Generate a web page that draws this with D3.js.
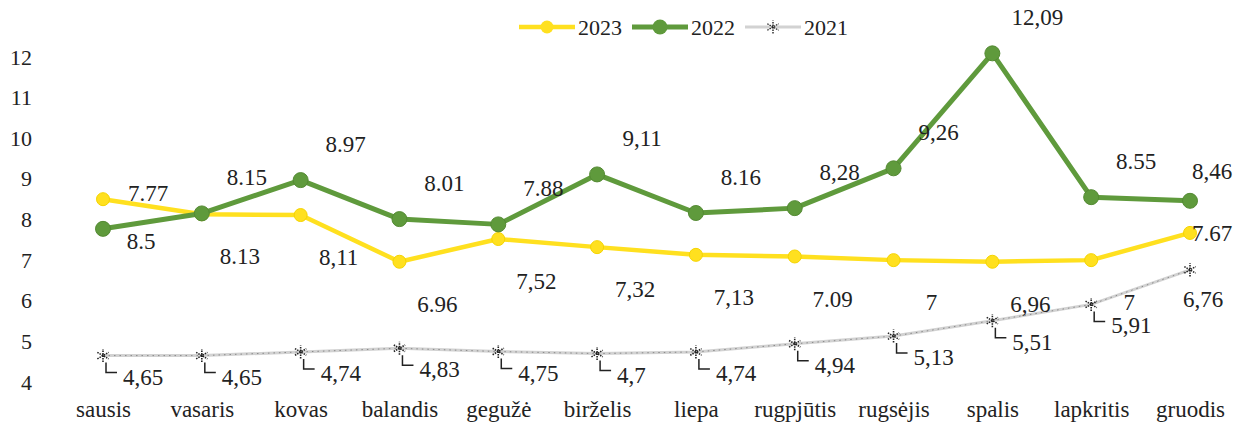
<!DOCTYPE html>
<meta charset="utf-8">
<style>
body { margin: 0; background: #fff; }
.axis path { display: none; }
.axis line { display: none; }
.axis text { fill: #222; }
</style>
<body>
<script src="https://d3js.org/d3.v7.min.js"></script>
<script>
var months = ["sausis", "vasaris", "kovas", "balandis", "gegužė", "birželis",
              "liepa", "rugpjūtis", "rugsėjis", "spalis", "lapkritis", "gruodis"];

var v2023 = [8.5, 8.13, 8.11, 6.96, 7.52, 7.32, 7.13, 7.09, 7, 6.96, 7, 7.67];
var v2022 = [7.77, 8.15, 8.97, 8.01, 7.88, 9.11, 8.16, 8.28, 9.26, 12.09, 8.55, 8.46];
var v2021 = [4.65, 4.65, 4.74, 4.83, 4.75, 4.7, 4.74, 4.94, 5.13, 5.51, 5.91, 6.76];

// label texts as printed on the chart (mixed separators in the source)
var lab2023 = ["8.5", "8.13", "8,11", "6.96", "7,52", "7,32", "7,13", "7.09", "7", "6,96", "7", "7.67"];
var lab2022 = ["7.77", "8.15", "8.97", "8.01", "7.88", "9,11", "8.16", "8,28", "9,26", "12,09", "8.55", "8,46"];
var lab2021 = ["4,65", "4,65", "4,74", "4,83", "4,75", "4,7", "4,74", "4,94", "5,13", "5,51", "5,91", "6,76"];

var yTicks = [4, 5, 6, 7, 8, 9, 10, 11, 12];

// find a Times-like font that is actually installed
function pickFont(list) {
  var c = document.createElement("canvas").getContext("2d");
  var t = "sausis 12,09 mmmWWiil";
  c.font = "40px monospace";
  var base = c.measureText(t).width;
  for (var i = 0; i < list.length; i++) {
    c.font = "40px '" + list[i] + "', monospace";
    if (Math.abs(c.measureText(t).width - base) > 0.5) return "'" + list[i] + "'";
  }
  return "serif";
}
var FONT = pickFont(["Liberation Serif", "Tinos", "Times New Roman", "Times", "Nimbus Roman",
                     "DejaVu Serif", "Noto Serif", "FreeSerif"]);

var W = 1236, H = 425;
var svg = d3.select("body").append("svg").attr("width", W).attr("height", H)
    .style("font-family", FONT);

var x = d3.scalePoint().domain(months).range([103, 1190]);
var y = d3.scaleLinear().domain([4, 12]).range([382, 57]);

// y axis, labels only
svg.append("g")
    .attr("class", "axis axis--y")
    .attr("transform", "translate(32,0)")
    .call(d3.axisLeft(y).tickValues(yTicks).tickSize(0).tickPadding(0))
    .selectAll("text").style("font-size", "22px").style("font-family", FONT);

// x axis, labels only
svg.append("g")
    .attr("class", "axis axis--x")
    .attr("transform", "translate(0,401)")
    .call(d3.axisBottom(x).tickSize(0).tickPadding(0))
    .selectAll("text").style("font-size", "23px").style("font-family", FONT);

var line = d3.line()
    .x(function(d, i) { return x(months[i]); })
    .y(function(d) { return y(d); });

var series = [
  {name: "2023", values: v2023, labels: lab2023, color: "#FFE01F", width: 4.5, r: 6.5},
  {name: "2022", values: v2022, labels: lab2022, color: "#5F9A3C", width: 5, r: 7.5},
  {name: "2021", values: v2021, labels: lab2021, color: "#D2D2D2", width: 3, r: 0}
];

// 2021 line first (underneath)
var s21 = series[2];
svg.append("path").datum(s21.values)
    .attr("fill", "none").attr("stroke", s21.color).attr("stroke-width", s21.width)
    .attr("d", line);
svg.append("path").datum(s21.values)
    .attr("fill", "none").attr("stroke", "#8a8a8a").attr("stroke-width", 1)
    .attr("stroke-dasharray", "1.5,4")
    .attr("d", line);

[series[0], series[1]].forEach(function(s) {
  svg.append("path").datum(s.values)
      .attr("fill", "none")
      .attr("stroke", s.color)
      .attr("stroke-width", s.width)
      .attr("stroke-linejoin", "round")
      .attr("d", line);
  svg.selectAll(null).data(s.values).enter().append("circle")
      .attr("cx", function(d, i) { return x(months[i]); })
      .attr("cy", function(d) { return y(d); })
      .attr("r", s.r)
      .attr("fill", s.color)
      .attr("stroke", s.name == "2022" ? "#548a33" : "#F5D400")
      .attr("stroke-width", 1);
});

// 2021 markers: speckled asterisk
var star = d3.symbol().type(d3.symbolAsterisk).size(120);
svg.selectAll(".m21").data(s21.values).enter().append("path")
    .attr("class", "m21")
    .attr("transform", function(d, i) { return "translate(" + x(months[i]) + "," + y(d) + ")"; })
    .attr("d", star)
    .attr("fill", "none")
    .attr("stroke", "#222")
    .attr("stroke-width", 1.6)
    .attr("stroke-dasharray", "1.5,1");

// data labels; near the right edge they are pulled in
function labels(s, dx, dy, edgeDy) {
  svg.selectAll(null).data(s.values).enter().append("text")
      .attr("x", function(d, i) { return Math.min(x(months[i]) + dx, W - 24); })
      .attr("y", function(d, i) {
        var off = x(months[i]) + dx > W - 24 ? edgeDy : dy;
        return y(d) + off;
      })
      .attr("text-anchor", "middle")
      .attr("dy", "0.35em")
      .style("font-size", "23px")
      .attr("fill", "#222")
      .text(function(d, i) { return s.labels[i]; });
}
labels(series[1], 45, -36, -30);
labels(series[0], 38, 42, 0);

// 2021 labels with leader lines (last one sits below its point)
function edge21(i) { return x(months[i]) + 68 > W; }
svg.selectAll(".lead").data(s21.values).enter().append("path")
    .attr("class", "lead")
    .attr("fill", "none").attr("stroke", "#222").attr("stroke-width", 1.5)
    .attr("d", function(d, i) {
      if (edge21(i)) return null;
      var px = x(months[i]) + 3, py = y(d);
      return "M" + px + "," + (py + 7) + "V" + (py + 17) + "H" + (px + 11);
    });
svg.selectAll(".l21").data(s21.values).enter().append("text")
    .attr("class", "l21")
    .attr("x", function(d, i) { return edge21(i) ? W - 33 : x(months[i]) + 20; })
    .attr("y", function(d, i) { return y(d) + (edge21(i) ? 29 : 21); })
    .attr("text-anchor", function(d, i) { return edge21(i) ? "middle" : "start"; })
    .attr("dy", "0.35em")
    .style("font-size", "23px")
    .attr("fill", "#222")
    .text(function(d, i) { return s21.labels[i]; });

// legend
var leg = svg.append("g").attr("transform", "translate(519,27)");
series.forEach(function(s, i) {
  var g = leg.append("g").attr("transform", "translate(" + (i * 113) + ",0)");
  g.append("line").attr("x1", 0).attr("x2", 56).attr("y1", 0).attr("y2", 0)
      .attr("stroke", s.color).attr("stroke-width", s.width);
  if (s.r) {
    g.append("circle").attr("cx", 28).attr("cy", 0).attr("r", s.r).attr("fill", s.color);
  } else {
    g.append("path").attr("transform", "translate(28,0)").attr("d", star)
        .attr("fill", "none").attr("stroke", "#222").attr("stroke-width", 1.4)
        .attr("stroke-dasharray", "1.5,1");
  }
  g.append("text").attr("x", 59).attr("y", 0).attr("dy", "0.35em")
      .style("font-size", "22px").attr("fill", "#222").text(s.name);
});
</script>
</body>
